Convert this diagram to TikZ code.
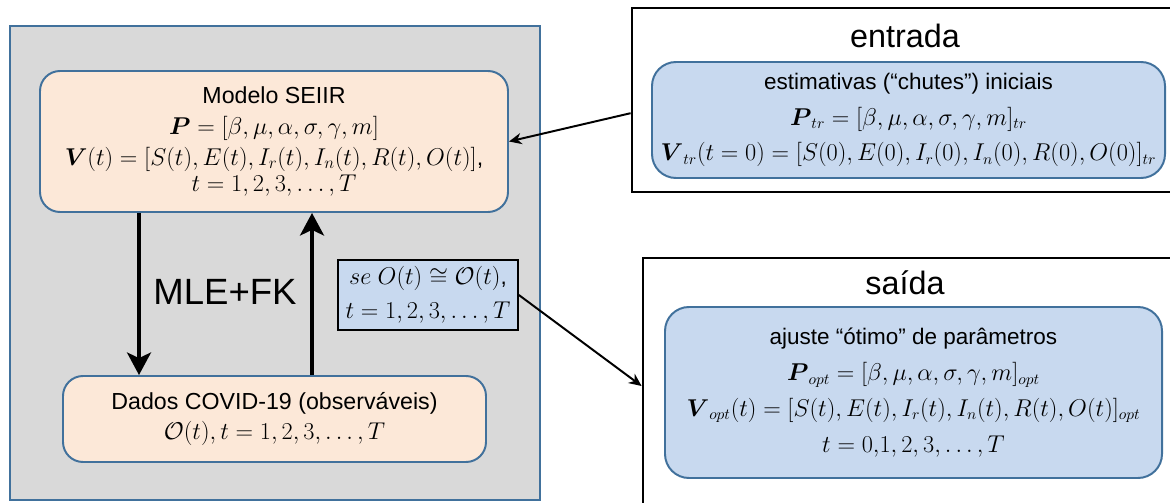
\documentclass[tikz,border=0pt]{standalone}
\usepackage{amsmath,amssymb}
\usepackage{fontspec}
\setmainfont{Liberation Sans}
\usepackage{tikz}
\usetikzlibrary{arrows.meta,positioning,calc}

\definecolor{panelgray}{HTML}{D9D9D9}
\definecolor{peach}{HTML}{FCE8D8}
\definecolor{paleblue}{HTML}{C8D9EF}
\definecolor{edgeblue}{HTML}{41719C}

\begin{document}
\begin{tikzpicture}[
    panel/.style={draw=edgeblue, line width=1pt, fill=panelgray, minimum width=13.25cm, minimum height=11.85cm},
    frame/.style={draw=black, line width=2pt, fill=white},
    modelbox/.style={draw=edgeblue, line width=1.4pt, rounded corners=0.5cm, fill=peach, align=center, font={\fontsize{16.5}{22}\selectfont}},
    inbox/.style={draw=edgeblue, line width=1.4pt, rounded corners=0.6cm, fill=paleblue, align=center, font={\fontsize{16}{25.5}\selectfont}},
    testbox/.style={draw=black, line width=1.2pt, fill=paleblue, align=center, font={\fontsize{16}{24}\selectfont}},
    title/.style={font={\fontsize{23}{27}\selectfont}},
    arr/.style={-{Stealth[length=9pt,width=8pt]}, line width=1.4pt},
    bigarr/.style={-{Stealth[length=16pt,width=17pt,inset=4pt]}, line width=2.8pt}
]
\useasboundingbox (0,0) rectangle (29.25,12.55);

% left block
\node[panel] (panel) at (6.875,5.975) {};
\node[modelbox, minimum width=11.7cm, minimum height=3.525cm] (model) at (6.85,9.0125)
    {Modelo SEIIR\\
     $\boldsymbol{P}=[\beta,\mu,\alpha,\sigma,\gamma,m]$\\
     $\boldsymbol{V}(t)=[S(t),E(t),I_r(t),I_n(t),R(t),O(t)]$,\\[-3pt]
     $t=1,2,3,\dots,T$};
\node[modelbox, minimum width=10.575cm, minimum height=2.15cm] (data) at (6.8625,2.075)
    {Dados COVID-19 (observáveis)\\
     $\mathcal{O}(t),t=1,2,3,\dots,T$};
\node[font={\fontsize{26}{30}\selectfont}] (mle) at (5.625,5.25) {MLE+FK};
\node[testbox, minimum width=4.5cm, minimum height=1.75cm] (test) at (10.7,5.175)
    {$se\ O(t)\cong\mathcal{O}(t)$,\\
     $t=1,2,3,\dots,T$};

\draw[bigarr] ([xshift=-3.375cm]model.south) -- ([xshift=-3.3875cm]data.north);
\draw[bigarr] ([xshift=0.9375cm]data.north) -- ([xshift=0.95cm]model.south);

% input
\node[frame, minimum width=13.8cm, minimum height=4.6cm] (entrada) at (22.7,10.05) {};
\node[title] (entradalbl) at (22.625,11.65) {entrada};
\node[inbox, minimum width=12.825cm, minimum height=2.9cm] (guess) at (22.7125,9.55)
    {estimativas (“chutes”) iniciais\\
     $\boldsymbol{P}_{tr}=[\beta,\mu,\alpha,\sigma,\gamma,m]_{tr}$\\
     $\boldsymbol{V}_{tr}(t=0)=[S(0),E(0),I_r(0),I_n(0),R(0),O(0)]_{tr}$};

% output
\node[frame, minimum width=13.525cm, minimum height=6.4cm] (saida) at (22.8375,2.9) {};
\node[title] (saidalbl) at (22.625,5.475) {saída};
\node[inbox, minimum width=12.425cm, minimum height=4.275cm] (best) at (22.8375,2.7375)
    {ajuste “ótimo” de parâmetros\\
     $\boldsymbol{P}_{opt}=[\beta,\mu,\alpha,\sigma,\gamma,m]_{opt}$\\
     $\boldsymbol{V}_{opt}(t)=[S(t),E(t),I_r(t),I_n(t),R(t),O(t)]_{opt}$\\
     $t=0{,}1,2,3,\dots,T$};

\draw[arr] ([yshift=-0.33cm]entrada.west) -- (model.east);
\draw[arr] (test.east) -- (saida.west);
\end{tikzpicture}
\end{document}
